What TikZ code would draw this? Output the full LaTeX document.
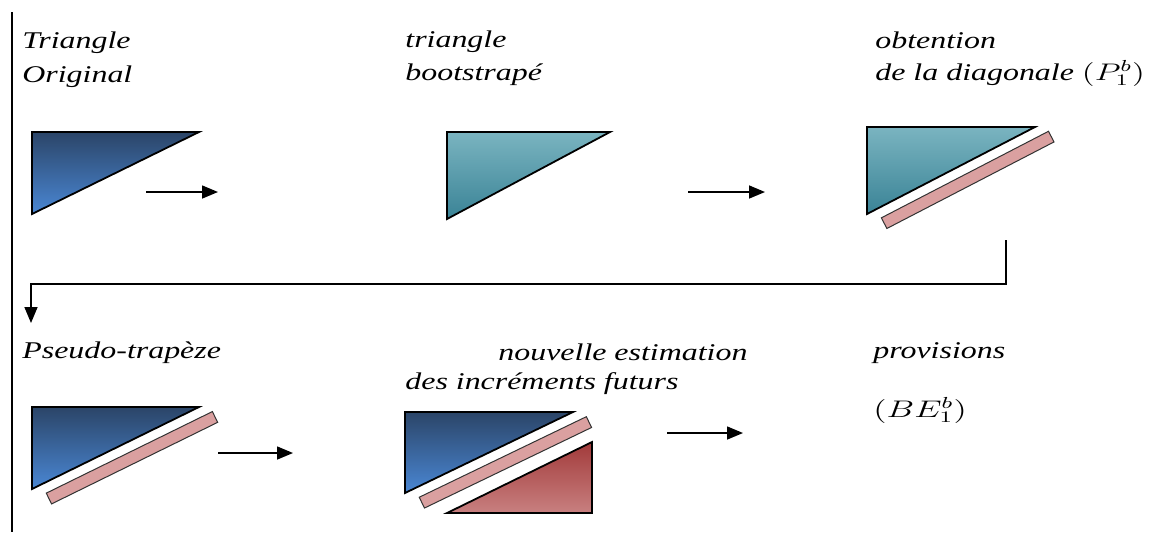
\documentclass[tikz,border=0pt]{standalone}
\usepackage{fontspec}
\setmainfont{Liberation Serif}[FakeStretch=1.33]
\usepackage{graphicx}
\usetikzlibrary{arrows.meta,calc}
\definecolor{TriNavy}{RGB}{43,69,104}
\definecolor{TriBlue}{RGB}{74,135,212}
\definecolor{BootTop}{RGB}{122,180,192}
\definecolor{BootBot}{RGB}{58,131,150}
\definecolor{FutTop}{RGB}{162,58,58}
\definecolor{FutBot}{RGB}{200,128,128}
\definecolor{StripPink}{RGB}{218,160,160}

% strip along the hypotenuse of a triangle, #1 = top right corner, #2 = bottom left corner
\newcommand{\diagstrip}[2]{%
  \draw[strip] ($(#1)!-5pt!(#2)!5pt!90:(#2)$) -- ($(#1)!-5pt!(#2)!11pt!90:(#2)$)
    -- ($(#2)!5.5pt!(#1)!11pt!-90:(#1)$) -- ($(#2)!5.5pt!(#1)!5pt!-90:(#1)$) -- cycle;}

\begin{document}
\begin{tikzpicture}[x=0.5pt, y=-0.5pt,
    lbl/.style={anchor=base west, inner sep=0pt, font=\fontsize{12}{14}\selectfont\itshape},
    flow/.style={-{Triangle[length=8pt,width=6.5pt]}, line width=0.8pt},
    origtri/.style={top color=TriNavy, bottom color=TriBlue, draw=black, line width=0.9pt},
    boottri/.style={top color=BootTop, bottom color=BootBot, draw=black, line width=0.9pt},
    futtri/.style={top color=FutTop, bottom color=FutBot, draw=black, line width=0.9pt},
    strip/.style={fill=StripPink, draw=black!80, line width=0.5pt}]
    \useasboundingbox (0,0) rectangle (1151,532);
    \draw[line width=1pt] (12,12) -- (12,532);

    % first row
    \node[lbl] (orig1) at (22,48) {Triangle};
    \node[lbl] (orig2) at (22,82) {Original};
    \node[lbl] (boot1) at (405,47) {triangle};
    \node[lbl] (boot2) at (405,80) {bootstrapé};
    \node[lbl] (diag1) at (875,48) {obtention};
    \node[lbl] (diag2) at (875,80) {de la diagonale \scalebox{1.4}[1]{$(P_1^b)$}};

    \coordinate (oA) at (199,132);
    \coordinate (oB) at (32,214);
    \path[origtri] (32,132) -- (oA) -- (oB) -- cycle;

    \coordinate (bA) at (610,132);
    \coordinate (bB) at (447,219);
    \path[boottri] (447,132) -- (bA) -- (bB) -- cycle;

    \coordinate (dA) at (1035,127);
    \coordinate (dB) at (867,214);
    \path[boottri] (867,127) -- (dA) -- (dB) -- cycle;
    \diagstrip{dA}{dB}

    \coordinate (a1s) at (146,192);
    \coordinate (a1e) at (218,192);
    \coordinate (a2s) at (688,192);
    \coordinate (a2e) at (765,192);
    \draw[flow] (a1s) -- (a1e);
    \draw[flow] (a2s) -- (a2e);

    % back to the second row
    \coordinate (turnTop) at (1006,240);
    \coordinate (turnL) at (31,284);
    \coordinate (pseudoIn) at (31,323);
    \draw[flow] (turnTop) |- (turnL) -- (pseudoIn);

    % second row
    \node[lbl] (pseudo) at (22,358) {Pseudo-trapèze};
    \node[lbl] (est1) at (498,360) {nouvelle estimation};
    \node[lbl] (est2) at (405,389) {des incréments futurs};
    \node[lbl] (prov1) at (873,358) {provisions};
    \node[lbl] (prov2) at (873,417) {\scalebox{1.45}[1]{$(BE_1^b)$}};

    \coordinate (pA) at (199,407);
    \coordinate (pB) at (32,489);
    \path[origtri] (32,407) -- (pA) -- (pB) -- cycle;
    \diagstrip{pA}{pB}

    \coordinate (eA) at (573,412);
    \coordinate (eB) at (405,493);
    \path[origtri] (405,412) -- (eA) -- (eB) -- cycle;
    \diagstrip{eA}{eB}
    \path[futtri] (592,442) -- (592,513) -- (447,513) -- cycle;

    \coordinate (a3s) at (218,453);
    \coordinate (a3e) at (293,453);
    \coordinate (a4s) at (667,433);
    \coordinate (a4e) at (743,433);
    \draw[flow] (a3s) -- (a3e);
    \draw[flow] (a4s) -- (a4e);
\end{tikzpicture}
\end{document}
